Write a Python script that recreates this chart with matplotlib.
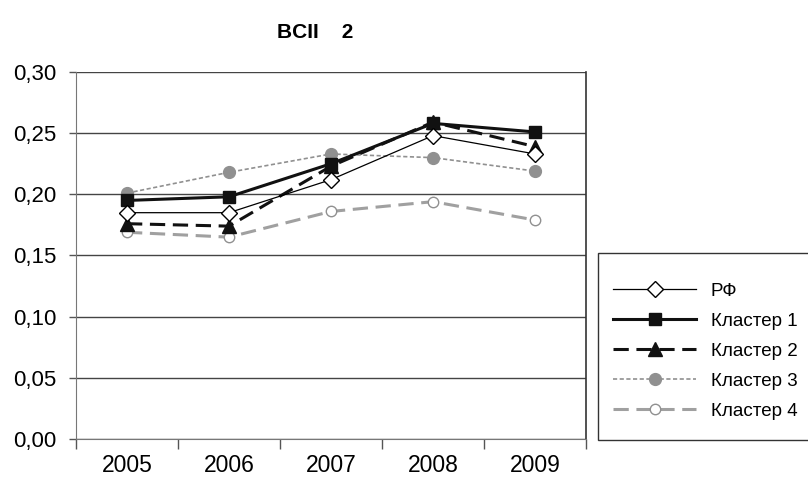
import matplotlib
matplotlib.use("Agg")
import matplotlib.pyplot as plt
from matplotlib.patches import Rectangle
import numpy as np

years = ["2005", "2006", "2007", "2008", "2009"]
rf = [0.185, 0.185, 0.212, 0.248, 0.233]
k1 = [0.195, 0.198, 0.225, 0.258, 0.251]
k2 = [0.176, 0.174, 0.223, 0.259, 0.239]
k3 = [0.201, 0.218, 0.233, 0.230, 0.219]
k4 = [0.169, 0.165, 0.186, 0.194, 0.179]
labels = ["РФ", "Кластер 1", "Кластер 2", "Кластер 3", "Кластер 4"]
yticks = [0.0, 0.05, 0.10, 0.15, 0.20, 0.25, 0.30]
title = "BCII    2"

plt.rcParams['font.family'] = ['Liberation Sans', 'DejaVu Sans']

fig = plt.figure(figsize=(8.08, 4.87), dpi=100)
ax = fig.add_axes([76/808, (487-439)/487, (586-76)/808, (439-72)/487])

x = np.arange(len(years))
ax.plot(x, rf, color='black', lw=0.9, marker='D', ms=8, mfc='white', mec='black', mew=1.0, label=labels[0], zorder=5)
ax.plot(x, k1, color='#111111', lw=2.2, marker='s', ms=8.5, mfc='#111111', mec='#111111', label=labels[1], zorder=4)
ax.plot(x, k2, color='#111111', lw=2.2, ls=(0, (5, 2.5)), marker='^', ms=9.5, mfc='#111111', mec='#111111', label=labels[2], zorder=4)
ax.plot(x, k3, color='#909090', lw=1.2, ls=(0, (2.5, 1.5)), marker='o', ms=8.5, mfc='#909090', mec='#909090', label=labels[3], zorder=3)
ax.plot(x, k4, color='#a0a0a0', lw=2.2, ls=(0, (5, 2.5)), marker='o', ms=7.5, mfc='white', mec='#909090', mew=1.0, label=labels[4], zorder=3)

ax.set_xlim(-0.5, 4.5)
ax.set_ylim(0, 0.30)
ax.set_yticks(yticks)
ax.set_yticklabels([f"{v:.2f}".replace('.', ',') for v in yticks], fontsize=16)
ax.set_xticks(x)
ax.set_xticklabels(years, fontsize=16.5)
ax.set_xticks(np.arange(-0.5, 5, 1), minor=True)
ax.tick_params(axis='x', which='major', length=0, pad=11)
ax.tick_params(axis='x', which='minor', length=7, color='#555555', width=1)
ax.tick_params(axis='y', length=5, color='#555555', width=1, pad=9, direction='out')
ax.grid(axis='y', color='#444444', lw=1)
ax.set_axisbelow(True)
ax.spines['top'].set_visible(False)
ax.spines['left'].set_color('#777777')
ax.spines['bottom'].set_color('#777777')
ax.spines['right'].set_color('#333333')
ax.spines['right'].set_linewidth(1.2)

fig.text(315/808, 1 - 32/487, title, ha='center', va='center', fontsize=15, fontweight='bold')

fig.patches.append(Rectangle((598/808, 1 - 440/487), 230/808, 187/487, transform=fig.transFigure,
                             facecolor='white', edgecolor='#333333', lw=1.0, clip_on=False, zorder=0))
leg = fig.legend(loc='upper left', bbox_to_anchor=(604/808, 1 - 273/487), fontsize=13.5, frameon=False,
                 handlelength=4.4, borderpad=0.0, labelspacing=0.69, handletextpad=0.8)

fig.savefig("out.png", dpi=100)
